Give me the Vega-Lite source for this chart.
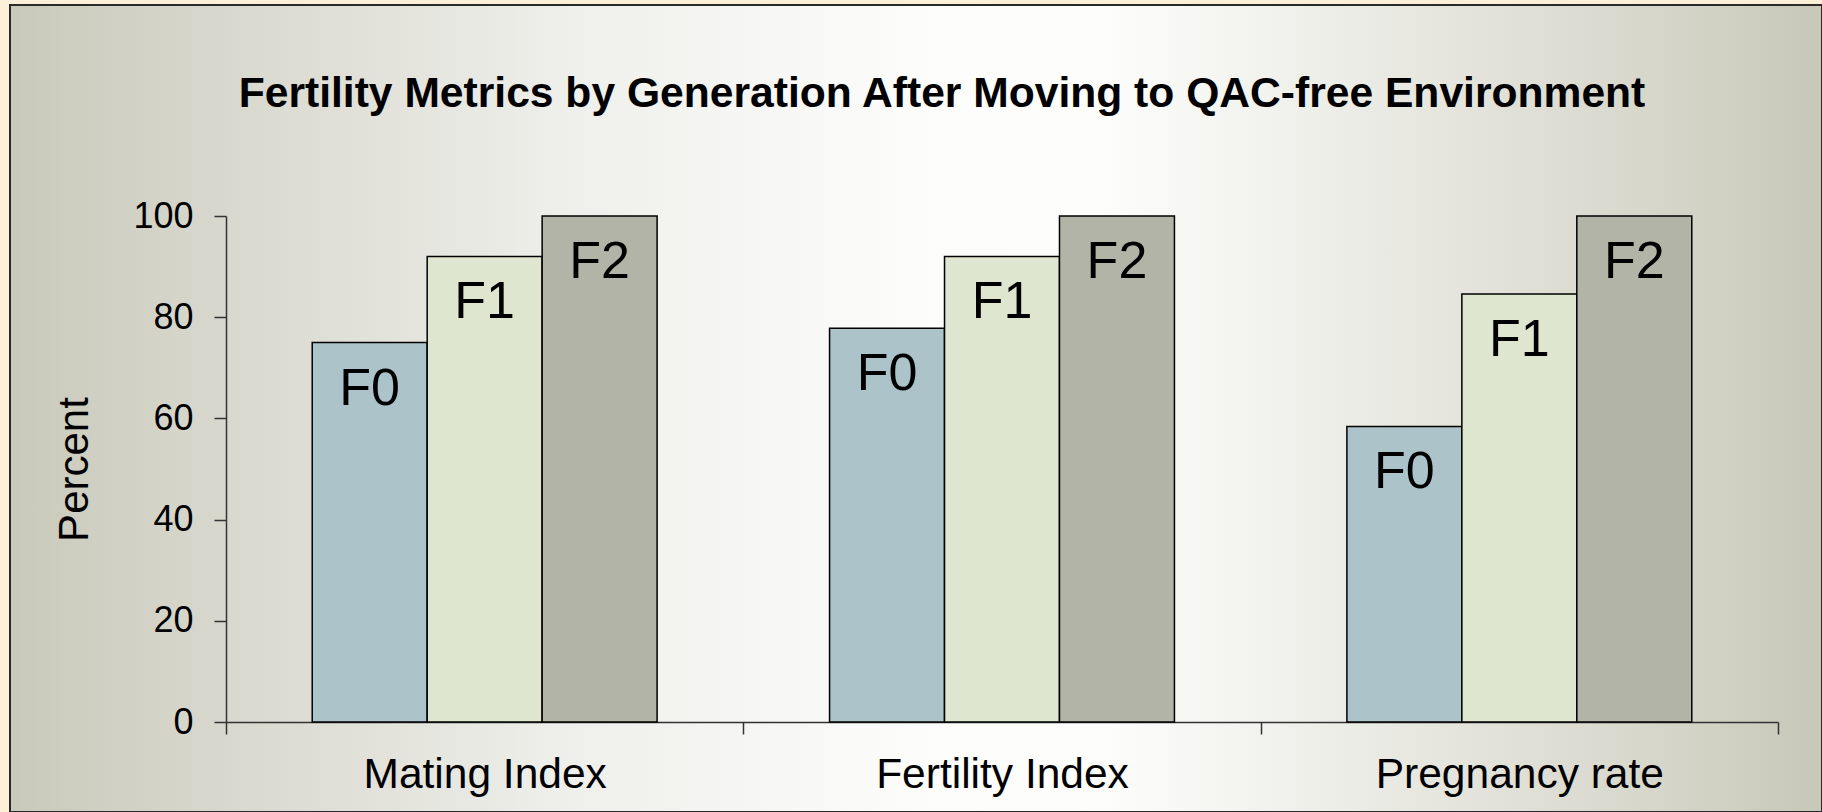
{
  "$schema": "https://vega.github.io/schema/vega-lite/v6.json",
  "width": 1812,
  "height": 807,
  "autosize": {"type": "none"},
  "padding": {"left": 10, "top": 5, "right": 0, "bottom": 0},
  "background": "#fdf0d8",
  "title": {
    "text": "Fertility Metrics by Generation After Moving to QAC-free Environment",
    "font": "Liberation Sans",
    "fontSize": 42.6,
    "fontWeight": "bold",
    "color": "#000000",
    "anchor": "middle",
    "frame": "group",
    "baseline": "alphabetic",
    "offset": -145,
    "dx": 26
  },
  "config": {
    "view": {
      "fill": {
        "gradient": "linear",
        "x1": 0, "y1": 0.5, "x2": 1, "y2": 0.5,
        "stops": [
          {"offset": 0, "color": "#c9c9bb"},
          {"offset": 0.12, "color": "#d8d8ce"},
          {"offset": 0.3, "color": "#eeeeea"},
          {"offset": 0.5, "color": "#fcfcfb"},
          {"offset": 0.6, "color": "#fdfdfc"},
          {"offset": 0.75, "color": "#ebebe5"},
          {"offset": 0.9, "color": "#d7d7cc"},
          {"offset": 1, "color": "#c8c8b9"}
        ]
      },
      "stroke": "#2a2a2a",
      "strokeWidth": 2
    }
  },
  "data": {
    "values": [
      {"metric": "Mating Index", "gen": "F0", "value": 75},
      {"metric": "Mating Index", "gen": "F1", "value": 92},
      {"metric": "Mating Index", "gen": "F2", "value": 100},
      {"metric": "Fertility Index", "gen": "F0", "value": 77.8},
      {"metric": "Fertility Index", "gen": "F1", "value": 92},
      {"metric": "Fertility Index", "gen": "F2", "value": 100},
      {"metric": "Pregnancy rate", "gen": "F0", "value": 58.4},
      {"metric": "Pregnancy rate", "gen": "F1", "value": 84.6},
      {"metric": "Pregnancy rate", "gen": "F2", "value": 100}
    ]
  },
  "encoding": {
    "x": {
      "field": "metric",
      "type": "nominal",
      "sort": ["Mating Index", "Fertility Index", "Pregnancy rate"],
      "scale": {"range": [216, 1768], "paddingInner": 0, "paddingOuter": 0},
      "axis": {
        "title": null,
        "orient": "bottom",
        "offset": -90,
        "labelAngle": 0,
        "labelLimit": 0,
        "labelFont": "Liberation Sans",
        "labelFontSize": 42.5,
        "labelColor": "#000000",
        "labelPadding": 19,
        "tickBand": "extent",
        "tickSize": 12,
        "tickColor": "#333333",
        "tickWidth": 1.5,
        "domainColor": "#333333",
        "domainWidth": 1.5,
        "grid": false
      }
    },
    "xOffset": {
      "field": "gen",
      "type": "nominal",
      "sort": ["F0", "F1", "F2"],
      "scale": {"paddingInner": 0, "paddingOuter": 0.75}
    },
    "y": {
      "field": "value",
      "type": "quantitative",
      "scale": {"domain": [0, 100], "range": [717, 211], "nice": false, "zero": true},
      "axis": {
        "title": "Percent",
        "titleFont": "Liberation Sans",
        "titleFontSize": 42,
        "titleFontWeight": "normal",
        "titleColor": "#000000",
        "titlePadding": 36,
        "orient": "left",
        "offset": -216,
        "values": [0, 20, 40, 60, 80, 100],
        "labelFont": "Liberation Sans",
        "labelFontSize": 36,
        "labelColor": "#000000",
        "labelPadding": 21,
        "tickSize": 12,
        "tickColor": "#333333",
        "tickWidth": 1.5,
        "domainColor": "#333333",
        "domainWidth": 1.5,
        "grid": false
      }
    }
  },
  "layer": [
    {
      "mark": {"type": "bar", "stroke": "#000000", "strokeWidth": 1.5},
      "encoding": {
        "color": {
          "field": "gen",
          "type": "nominal",
          "scale": {"domain": ["F0", "F1", "F2"], "range": ["#abc3c9", "#dfe6cf", "#b2b4a7"]},
          "legend": null
        },
        "fillOpacity": {"value": 1}
      }
    },
    {
      "mark": {
        "type": "text",
        "font": "Liberation Sans",
        "fontSize": 52,
        "color": "#000000",
        "baseline": "alphabetic",
        "align": "center",
        "dy": 62
      },
      "encoding": {
        "text": {"field": "gen", "type": "nominal"}
      }
    }
  ]
}
